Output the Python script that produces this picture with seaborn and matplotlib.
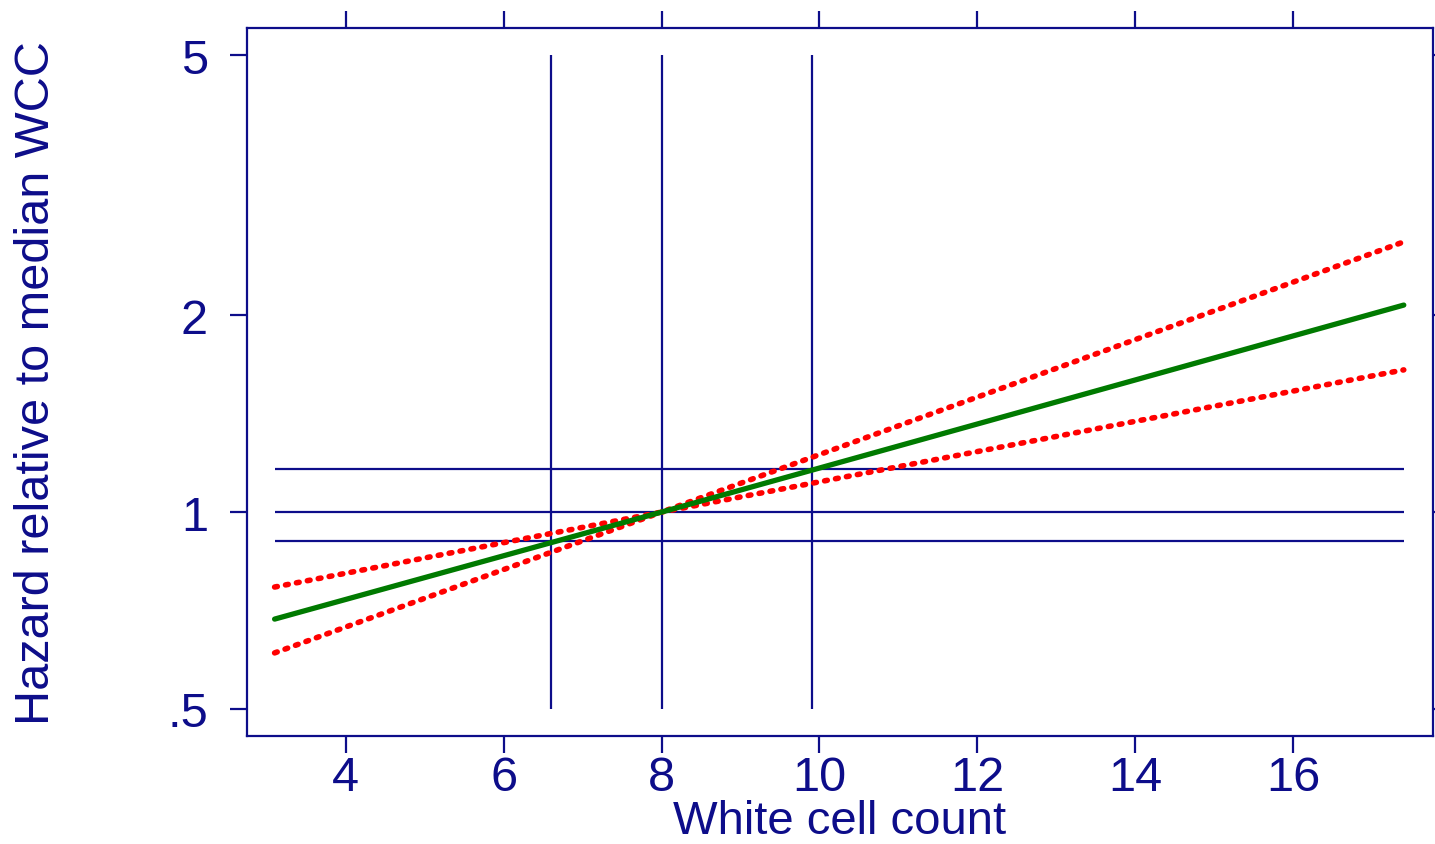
import pandas as pd
import matplotlib
matplotlib.use("Agg")
import matplotlib.pyplot as plt
import seaborn as sns

# values
wcc = [3.1, 8.0, 17.4]
hr = [0.686, 1.0, 2.073]
hr_upper = [0.768, 1.0, 2.59]
hr_lower = [0.609, 1.0, 1.65]

# reference lines (percentiles of WCC and their hazards)
wcc_marks = [6.6, 8.0, 9.9]
hr_marks = [0.903, 1.0, 1.163]

x_ticks = [4, 6, 8, 10, 12, 14, 16]
y_ticks = [0.5, 1, 2, 5]
y_tick_labels = ['.5', '1', '2', '5']

navy = '#0d0d8a'

sns.set_theme(style="white")
plt.rcParams['font.family'] = ['Liberation Sans', 'DejaVu Sans']

df = pd.DataFrame({'wcc': wcc, 'hr': hr, 'upper': hr_upper, 'lower': hr_lower})

fig = plt.figure(figsize=(14.35, 8.45), dpi=100)
ax = fig.add_axes([0.1721, 0.1278, 0.8265, 0.8379])

ax.set_yscale('log')

# reference grid
ax.vlines(wcc_marks, min(y_ticks), max(y_ticks), color=navy, lw=1.6, zorder=1)
ax.hlines(hr_marks, wcc[0], wcc[-1], color=navy, lw=1.6, zorder=1)

# confidence limits + estimate
dot = (0.5, 1.5)
for col in ['upper', 'lower']:
    sns.lineplot(data=df, x='wcc', y=col, ax=ax, color='#ff0000', lw=4.0,
                 dashes=False, zorder=3)
    ax.lines[-1].set_dashes(dot)
    ax.lines[-1].set_dash_capstyle('round')
sns.lineplot(data=df, x='wcc', y='hr', ax=ax, color='#007a00', lw=3.8,
             zorder=4, solid_capstyle='round')

ax.set_xlim(2.75, 17.77)
ax.set_ylim(0.4545, 5.50)

ax.set_xticks(x_ticks)
ax.set_xticklabels([str(t) for t in x_ticks])
ax.set_yticks(y_ticks)
ax.set_yticklabels(y_tick_labels)
ax.minorticks_off()

for s in ax.spines.values():
    s.set_color(navy)
    s.set_linewidth(1.6)

ax.tick_params(axis='both', which='major', direction='out', length=12,
               width=1.6, color=navy, labelcolor=navy, labelsize=35,
               top=True, right=True, bottom=True, left=True,
               labeltop=False, labelright=False)
ax.tick_params(axis='x', pad=2)
ax.tick_params(axis='y', pad=16)

ax.set_xlabel('White cell count', fontsize=34, color=navy, labelpad=-1)
ax.set_ylabel('Hazard relative to median WCC', fontsize=35, color=navy, labelpad=78)

plt.savefig('out.png', dpi=100)
